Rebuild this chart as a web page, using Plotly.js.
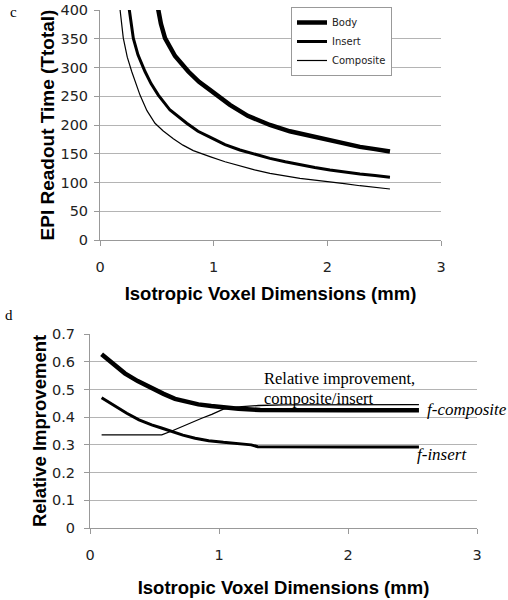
<!DOCTYPE html>
<html>
<head>
<meta charset="utf-8">
<script src="https://cdn.plot.ly/plotly-3.0.1.min.js"></script>
<style>html,body{margin:0;padding:0;background:#fff;}#chart{width:508px;height:600px;}</style>
</head>
<body>
<div id="chart"></div>
<script>
// Panel c: EPI readout time vs isotropic voxel dimension
const bodyX = [0.497, 0.513, 0.536, 0.572, 0.66, 0.777, 0.871, 0.967, 1.026, 1.143, 1.3, 1.495, 1.67, 1.847, 2.023, 2.15, 2.287, 2.42, 2.551];
const bodyY = [417, 400, 376, 351, 320, 293, 275, 261, 252, 235, 216, 200, 189, 181, 174, 168, 162, 158, 154];
const insertX = [0.242, 0.258, 0.293, 0.334, 0.396, 0.449, 0.513, 0.616, 0.763, 0.862, 0.967, 1.1, 1.231, 1.36, 1.495, 1.63, 1.759, 1.89, 2.023, 2.15, 2.287, 2.42, 2.551];
const insertY = [417, 400, 351, 322, 293, 272, 252, 226, 203, 189, 179, 166, 156.5, 149, 142, 136, 130.4, 126, 121.7, 118, 114.8, 112, 109];
const compX = [0.167, 0.176, 0.205, 0.24, 0.279, 0.352, 0.413, 0.484, 0.554, 0.645, 0.73, 0.821, 0.9, 0.967, 1.1, 1.231, 1.36, 1.495, 1.63, 1.759, 1.89, 2.023, 2.15, 2.287, 2.42, 2.551];
const compY = [417, 400, 351, 318, 293, 252, 225, 203, 190, 176, 165, 155.5, 149.5, 145, 136, 128.7, 122, 116, 111, 107.3, 104, 101.4, 98, 94.4, 91.5, 88.7];

// Panel d: relative improvement
const fCompX = [0.09, 0.18, 0.27, 0.37, 0.478, 0.57, 0.659, 0.75, 0.84, 0.94, 1.034, 1.15, 1.32, 1.5, 2.0, 2.55];
const fCompY = [0.627, 0.595, 0.558, 0.53, 0.504, 0.484, 0.466, 0.455, 0.446, 0.44, 0.434, 0.43, 0.426, 0.425, 0.425, 0.425];
const fInsX = [0.09, 0.18, 0.285, 0.38, 0.478, 0.56, 0.634, 0.72, 0.815, 0.92, 1.034, 1.15, 1.25, 1.3, 1.5, 2.0, 2.55];
const fInsY = [0.470, 0.443, 0.414, 0.39, 0.372, 0.36, 0.348, 0.335, 0.324, 0.315, 0.309, 0.303, 0.300, 0.293, 0.292, 0.292, 0.292];
const relX = [0.09, 0.3, 0.556, 0.634, 0.74, 0.866, 0.944, 1.034, 1.15, 1.306, 1.5, 2.0, 2.55];
const relY = [0.336, 0.336, 0.336, 0.350, 0.372, 0.396, 0.410, 0.429, 0.437, 0.442, 0.444, 0.445, 0.445];

const seriesNames = ['Body', 'Insert', 'Composite'];
const xTickVals = [0, 1, 2, 3];

const W = 508, H = 600;
const sans = 'Liberation Sans, Arial, sans-serif';
const tickSans = 'DejaVu Sans, sans-serif';
const serif = 'Liberation Serif, Times New Roman, serif';
const grid = '#b4b4b4';

const traces = [
  {x: bodyX, y: bodyY, name: seriesNames[0], mode: 'lines', line: {color: '#000', width: 4.5}, xaxis: 'x', yaxis: 'y'},
  {x: insertX, y: insertY, name: seriesNames[1], mode: 'lines', line: {color: '#000', width: 3}, xaxis: 'x', yaxis: 'y'},
  {x: compX, y: compY, name: seriesNames[2], mode: 'lines', line: {color: '#000', width: 1.2}, xaxis: 'x', yaxis: 'y'},
  {x: fCompX, y: fCompY, name: 'f-composite', mode: 'lines', line: {color: '#000', width: 4.5}, xaxis: 'x2', yaxis: 'y2', showlegend: false},
  {x: fInsX, y: fInsY, name: 'f-insert', mode: 'lines', line: {color: '#000', width: 3}, xaxis: 'x2', yaxis: 'y2', showlegend: false},
  {x: relX, y: relY, name: 'Relative improvement', mode: 'lines', line: {color: '#000', width: 1.3}, xaxis: 'x2', yaxis: 'y2', showlegend: false}
];

function xAxis(domain, anchor, title, standoff) {
  return {
    domain: domain, anchor: anchor, range: [0, 3], tickvals: xTickVals,
    showgrid: false, zeroline: false, showline: true, linecolor: '#999', linewidth: 1,
    ticks: 'outside', ticklen: 5, tickcolor: '#999', ticklabelstandoff: 9,
    tickfont: {family: tickSans, size: 14.5, color: '#222'},
    title: {text: title, font: {family: sans, size: 18.5, color: '#000', weight: 'bold'}, standoff: standoff}
  };
}
function yAxis(domain, anchor, range, dtick, title, tsize, lstand, standoff) {
  return {
    domain: domain, anchor: anchor, range: range, dtick: dtick,
    showgrid: true, gridcolor: grid, gridwidth: 1, zeroline: false,
    showline: true, linecolor: '#999', linewidth: 1,
    ticks: 'outside', ticklen: 5, tickcolor: '#999', ticklabelstandoff: lstand,
    tickfont: {family: tickSans, size: 14.5, color: '#222'},
    title: {text: title, font: {family: sans, size: tsize, color: '#000', weight: 'bold'}, standoff: standoff}
  };
}

const layout = {
  width: W, height: H,
  margin: {l: 0, r: 0, t: 0, b: 0},
  paper_bgcolor: '#fff', plot_bgcolor: '#fff',
  xaxis: xAxis([100 / W, 441 / W], 'y', 'Isotropic Voxel Dimensions (mm)', 12),
  yaxis: yAxis([1 - 240 / H, 1 - 10 / H], 'x', [0, 400], 50, 'EPI Readout Time (Ttotal)', 19, 3, 0),
  xaxis2: xAxis([90 / W, 477 / W], 'y2', 'Isotropic Voxel Dimensions (mm)', 18),
  yaxis2: yAxis([1 - 528 / H, 1 - 334 / H], 'x2', [0, 0.7], 0.1, 'Relative Improvement', 18.5, 6, 0),
  showlegend: true,
  legend: {
    x: 291 / W, y: 1 - 7 / H, xanchor: 'left', yanchor: 'top',
    bgcolor: '#fff', bordercolor: '#999', borderwidth: 1,
    font: {family: tickSans, size: 10, color: '#222'}, tracegroupgap: 0
  },
  annotations: [
    {xref: 'paper', yref: 'paper', x: 8 / W, y: 1 - 12 / H, xanchor: 'left', yanchor: 'middle', text: 'c', showarrow: false, font: {family: serif, size: 15, color: '#000'}},
    {xref: 'paper', yref: 'paper', x: 3 / W, y: 1 - 315 / H, xanchor: 'left', yanchor: 'middle', text: 'd', showarrow: false, font: {family: serif, size: 15, color: '#000'}},
    {xref: 'x2', yref: 'y2', x: 1.33, y: 0.538, xanchor: 'left', yanchor: 'middle', text: 'Relative improvement,', showarrow: false, font: {family: serif, size: 16.5, color: '#000'}},
    {xref: 'x2', yref: 'y2', x: 1.33, y: 0.469, xanchor: 'left', yanchor: 'middle', text: 'composite/insert', showarrow: false, font: {family: serif, size: 16.5, color: '#000'}},
    {xref: 'x2', yref: 'y2', x: 2.595, y: 0.429, xanchor: 'left', yanchor: 'middle', text: '<i>f-composite</i>', showarrow: false, font: {family: serif, size: 17, color: '#000'}},
    {xref: 'x2', yref: 'y2', x: 2.52, y: 0.267, xanchor: 'left', yanchor: 'middle', text: '<i>f-insert</i>', showarrow: false, font: {family: serif, size: 17, color: '#000'}}
  ]
};

Plotly.newPlot('chart', traces, layout, {displayModeBar: false, staticPlot: true});
</script>
</body>
</html>
